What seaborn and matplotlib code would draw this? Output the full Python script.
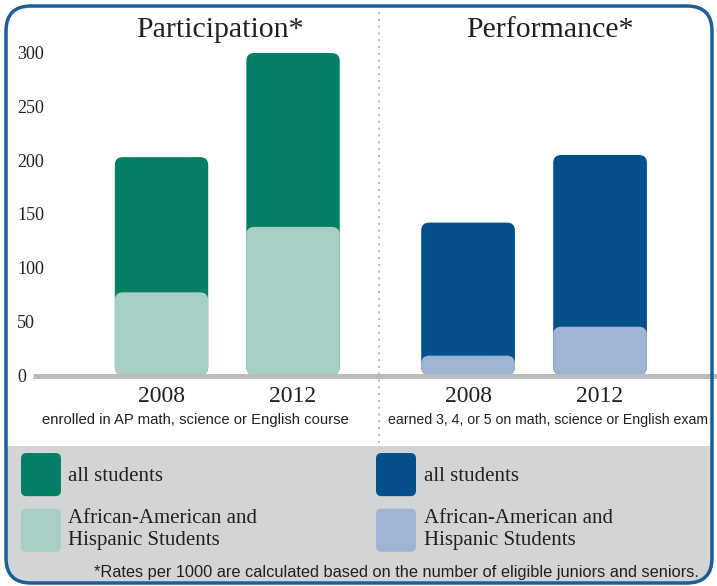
import numpy as np
import pandas as pd
import seaborn as sns
import matplotlib.pyplot as plt
import matplotlib.patches as mpatches
from matplotlib.lines import Line2D
from matplotlib.legend_handler import HandlerPatch

# ---- data ----
years = ["2008", "2012"]
participation_all = [203, 300]
participation_aah = [77, 138]
performance_all = [142, 205]
performance_aah = [18, 45]
y_ticks = [0, 50, 100, 150, 200, 250, 300]
panel_titles = ["Participation*", "Performance*"]
panel_notes = ["enrolled in AP math, science or English course",
               "earned 3, 4, or 5 on math, science or English exam"]
legend_labels = ["all students", "African-American and\nHispanic Students"]
footnote = "*Rates per 1000 are calculated based on the number of eligible juniors and seniors."

GREEN, LGREEN = "#047f67", "#a6cec4"
BLUE, LBLUE = "#03508a", "#9fb4d2"
SERIF = ["Liberation Serif", "DejaVu Serif"]
SANS = ["Liberation Sans Narrow", "Liberation Sans", "DejaVu Sans"]
TXT = "#231f20"

sns.set_style("white")
plt.rcParams["font.family"] = SERIF

W, H = 717, 586
fig = plt.figure(figsize=(W / 100, H / 100), dpi=100)
fig.patch.set_facecolor("white")


def ax_rect(l, t, r, b):
    return [l / W, 1 - b / H, (r - l) / W, (b - t) / H]


axL = fig.add_axes(ax_rect(55, 40, 378, 375))
axR = fig.add_axes(ax_rect(382, 40, 717, 375))
YMAX = 312.1

handles = []
for ax, vals_all, vals_sub, c_all, c_sub, xlim in [
    (axL, participation_all, participation_aah, GREEN, LGREEN, (-0.81, 1.646)),
    (axR, performance_all, performance_aah, BLUE, LBLUE, (-0.652, 1.886)),
]:
    sns.barplot(x=years, y=vals_all, color=c_all, saturation=1, width=0.71, ax=ax)
    sns.barplot(x=years, y=vals_sub, color=c_sub, saturation=1, width=0.71, ax=ax)
    ax.set_ylim(0, YMAX)
    ax.set_xlim(*xlim)
    ax.set_xlabel("")
    ax.set_ylabel("")
    ax.set_facecolor("none")
    sns.despine(ax=ax, left=True, bottom=True)
    ax.tick_params(axis="x", length=0, pad=8, labelsize=17, labelcolor=TXT)
    for lab in ax.get_xticklabels():
        lab.set_family(SERIF)
    h_pair = (ax.containers[0].patches[0], ax.containers[1].patches[0])
    for hp in h_pair:
        hp.set_edgecolor("none")
        hp.set_linewidth(0)
    handles.append(h_pair)

# rounded bars, radius from the axes transforms
fig.canvas.draw()
for ax in (axL, axR):
    p0 = ax.transData.transform((0, 0))
    p1 = ax.transData.transform((1, 1))
    xu = 1 / (p1[0] - p0[0])   # x units per pixel
    yu = 1 / (p1[1] - p0[1])   # y units per pixel
    for rect in list(ax.patches):
        x, y = rect.get_xy()
        w, h = rect.get_width(), rect.get_height()
        fb = mpatches.FancyBboxPatch(
            (x, y), w, h,
            boxstyle=f"round,pad=0,rounding_size={8 * xu}",
            mutation_aspect=yu / xu,
            facecolor=rect.get_facecolor(), edgecolor="none",
            zorder=rect.get_zorder())
        rect.remove()
        ax.add_patch(fb)

axL.set_yticks(y_ticks)
axL.set_yticklabels([str(v) for v in y_ticks])
axL.tick_params(axis="y", length=0, pad=38 * 0.72, labelsize=13, labelcolor=TXT)
for lab in axL.get_yticklabels():
    lab.set_horizontalalignment("left")
    lab.set_family(SERIF)
axR.set_yticks([])

# baseline
y0 = fig.transFigure.inverted().transform(axL.transData.transform((0, 0)))[1]
fig.add_artist(Line2D([33 / W, 1.0], [y0 - 1 / H, y0 - 1 / H], transform=fig.transFigure,
                      color="#b9babd", lw=3.6, solid_capstyle="butt", zorder=3))

# divider
fig.add_artist(Line2D([379 / W, 379 / W], [1 - 12 / H, 1 - 446 / H], transform=fig.transFigure,
                      color="#b5b5b5", lw=1.4, ls=(0, (1, 2.5)), zorder=3))

# titles and notes
fig.text(220 / W, 1 - 30 / H, panel_titles[0], ha="center", va="center",
         fontsize=21.5, family=SERIF, color=TXT)
fig.text(550 / W, 1 - 30 / H, panel_titles[1], ha="center", va="center",
         fontsize=21.5, family=SERIF, color=TXT)
fig.text(195 / W, 1 - 420 / H, panel_notes[0], ha="center", va="center",
         fontsize=10.7, family=SANS, color=TXT)
fig.text(548 / W, 1 - 420 / H, panel_notes[1], ha="center", va="center",
         fontsize=10.15, family=SANS, color=TXT)

# legend panel
inch = fig.dpi_scale_trans
panel = mpatches.FancyBboxPatch((7 / 100, (H - 582) / 100), (711 - 7) / 100, (582 - 446) / 100,
                                boxstyle="round,pad=0,rounding_size=0.22",
                                facecolor="#d3d4d6", edgecolor="none", transform=inch, zorder=-2)
fig.add_artist(panel)
fig.add_artist(mpatches.Rectangle((7 / 100, (H - 500) / 100), (711 - 7) / 100, (500 - 446) / 100,
                                  facecolor="#d3d4d6", edgecolor="none", transform=inch, zorder=-2))


def rounded_handle(legend, orig_handle, xdescent, ydescent, width, height, fontsize):
    return mpatches.FancyBboxPatch((-xdescent, -ydescent), width, height,
                                   boxstyle="round,pad=0,rounding_size=4")


hmap = {mpatches.Rectangle: HandlerPatch(patch_func=rounded_handle)}
for (h_all, h_sub), xpx in zip(handles, (21, 376)):
    fig.legend(handles=[h_all, h_sub], labels=legend_labels, loc="upper left",
               bbox_to_anchor=(xpx / W, 1 - 453 / H), bbox_transform=fig.transFigure,
               frameon=False, borderpad=0, borderaxespad=0, handlelength=1.92,
               handleheight=2.81, handletextpad=0.36, labelspacing=0.6,
               prop={"family": SERIF, "size": 15}, labelcolor=TXT, handler_map=hmap)

fig.text(396 / W, 1 - 572 / H, footnote, ha="center", va="center",
         fontsize=11.8, family=SANS, color=TXT)

# outer rounded border
fig.add_artist(mpatches.FancyBboxPatch((6 / 100, (H - 583) / 100), (712 - 6) / 100, (583 - 6) / 100,
                                       boxstyle="round,pad=0,rounding_size=0.25",
                                       facecolor="none", edgecolor="#1b5d97", lw=2.5,
                                       transform=inch, zorder=10))

fig.savefig("out.png", dpi=100)
